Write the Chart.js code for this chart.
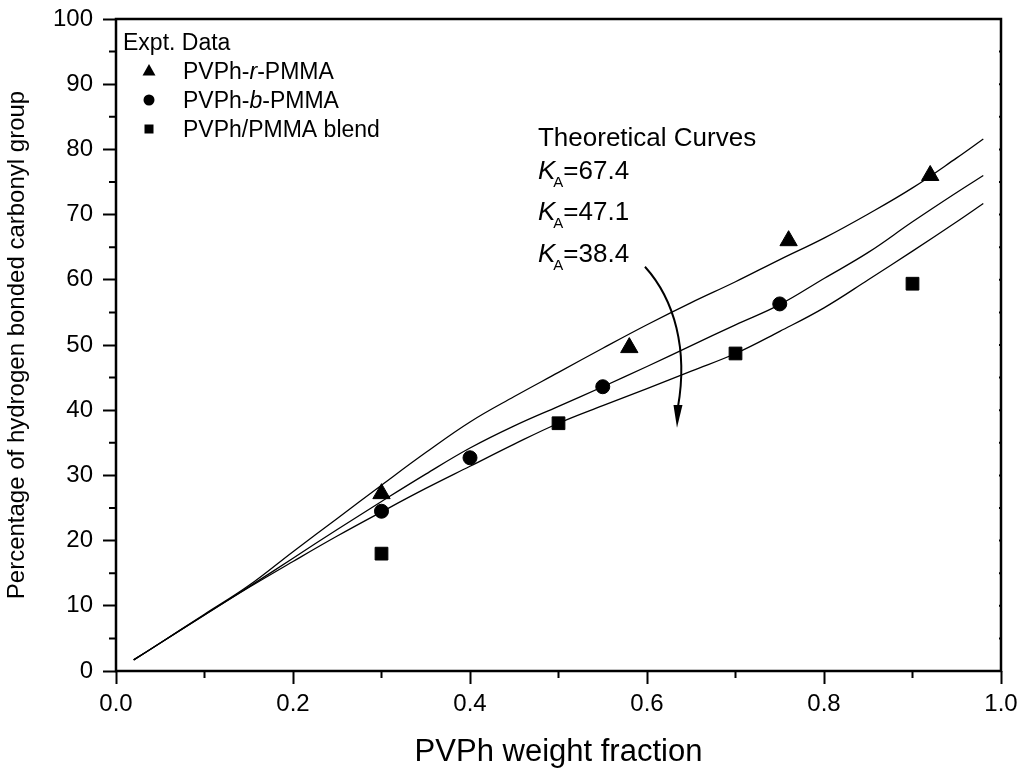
<!DOCTYPE html>
<html>
<head>
<meta charset="utf-8">
<script src="https://cdn.jsdelivr.net/npm/chart.js@4.4.0/dist/chart.umd.min.js"></script>
<style>
  html, body { margin: 0; padding: 0; background: #fff; }
  #wrap { width: 1026px; height: 775px; }
</style>
</head>
<body>
<div id="wrap"><canvas id="chart" width="1026" height="775"></canvas></div>
<script>
// Expt. data
const triX = [0.30, 0.58, 0.76, 0.92];
const triY = [27.2, 49.6, 66.0, 76.0];
const circX = [0.30, 0.40, 0.55, 0.75];
const circY = [24.5, 32.7, 43.6, 56.3];
const sqX = [0.30, 0.50, 0.70, 0.90];
const sqY = [18.0, 38.0, 48.7, 59.4];

// theoretical curves
const curveX = [0.02, 0.05, 0.10, 0.15, 0.20, 0.25, 0.30, 0.35, 0.40, 0.45, 0.50, 0.55, 0.60, 0.65, 0.70, 0.75, 0.80, 0.85, 0.90, 0.95, 0.98];
const ka674 = [1.7, 4.3, 8.7, 13.1, 18.3, 23.4, 28.5, 33.5, 38.2, 42.1, 45.8, 49.5, 53.1, 56.5, 59.7, 63.1, 66.4, 70.1, 74.1, 78.7, 81.6];
const ka471 = [1.7, 4.3, 8.6, 12.9, 17.3, 21.7, 26.0, 30.2, 34.2, 37.6, 40.6, 43.6, 46.7, 49.9, 53.1, 56.2, 60.2, 64.2, 68.9, 73.4, 76.0];
const ka384 = [1.7, 4.3, 8.6, 12.8, 16.8, 20.7, 24.4, 28.0, 31.4, 34.8, 38.0, 40.7, 43.3, 46.0, 48.7, 52.1, 55.7, 60.0, 64.4, 68.9, 71.7];

const kaLabels = ['=67.4', '=47.1', '=38.4'];
const legendRows = [
  { pre: 'PVPh-', it: 'r', post: '-PMMA', style: 'triangle' },
  { pre: 'PVPh-', it: 'b', post: '-PMMA', style: 'circle' },
  { pre: 'PVPh/PMMA blend', it: '', post: '', style: 'rect' }
];

const FONT = '"Liberation Sans", Arial, sans-serif';
const pts = (xs, ys) => xs.map((x, i) => ({ x: x, y: ys[i] }));

function curve(ys) {
  return {
    data: pts(curveX, ys), showLine: true, borderColor: '#000', borderWidth: 1.3,
    pointRadius: 0, tension: 0.4, fill: false
  };
}
function marks(xs, ys, style, r) {
  return {
    data: pts(xs, ys), showLine: false, pointStyle: style, pointRadius: r,
    backgroundColor: '#000', borderColor: '#000', borderWidth: 1
  };
}

// little marker for the legend box
function marker(ctx, style, x, y) {
  ctx.beginPath();
  if (style === 'triangle') {
    ctx.moveTo(x, y - 7); ctx.lineTo(x + 6.5, y + 4.5); ctx.lineTo(x - 6.5, y + 4.5);
  } else if (style === 'circle') {
    ctx.arc(x, y, 5.5, 0, Math.PI * 2);
  } else {
    ctx.rect(x - 4.5, y - 4.5, 9, 9);
  }
  ctx.closePath();
  ctx.fill();
}

const extras = {
  id: 'extras',
  afterDraw(chart) {
    const ctx = chart.ctx;
    const a = chart.chartArea;
    const xs = chart.scales.x, ys = chart.scales.y;
    ctx.save();
    ctx.fillStyle = '#000';
    ctx.strokeStyle = '#000';

    // frame
    ctx.lineWidth = 2.5;
    ctx.strokeRect(a.left, a.top, a.right - a.left, a.bottom - a.top);

    // minor ticks
    ctx.lineWidth = 2;
    ctx.beginPath();
    for (let v = 0.1; v < 1; v += 0.2) {
      const px = xs.getPixelForValue(v);
      ctx.moveTo(px, a.bottom); ctx.lineTo(px, a.bottom + 7);
    }
    for (let v = 5; v < 100; v += 10) {
      const py = ys.getPixelForValue(v);
      ctx.moveTo(a.left, py); ctx.lineTo(a.left - 7, py);
    }
    for (let v = 5; v < 100; v += 5) {
      const py = ys.getPixelForValue(v);
      ctx.moveTo(a.right, py); ctx.lineTo(a.right - 2, py);
    }
    ctx.stroke();

    // legend box
    ctx.textBaseline = 'alphabetic';
    ctx.font = '23px ' + FONT;
    ctx.fillText('Expt. Data', a.left + 7, a.top + 31);
    legendRows.forEach((row, i) => {
      const base = a.top + 60 + i * 29;
      marker(ctx, row.style, a.left + 33, base - 8);
      let x = a.left + 67;
      ctx.font = '23px ' + FONT;
      ctx.fillText(row.pre, x, base); x += ctx.measureText(row.pre).width;
      if (row.it) {
        ctx.font = 'italic 23px ' + FONT;
        ctx.fillText(row.it, x, base); x += ctx.measureText(row.it).width;
        ctx.font = '23px ' + FONT;
        ctx.fillText(row.post, x, base);
      }
    });

    // Theoretical curves label
    const tx = xs.getPixelForValue(0.4768);
    ctx.font = '26px ' + FONT;
    ctx.fillText('Theoretical Curves', tx, ys.getPixelForValue(80.5));
    const kBase = [75.5, 69.2, 62.8];
    kaLabels.forEach((lab, i) => {
      const b = ys.getPixelForValue(kBase[i]);
      let x = tx;
      ctx.font = 'italic 26px ' + FONT;
      ctx.fillText('K', x, b); x += ctx.measureText('K').width - 2;
      ctx.font = '15px ' + FONT;
      ctx.fillText('A', x, b + 8); x += ctx.measureText('A').width;
      ctx.font = '26px ' + FONT;
      ctx.fillText(lab, x, b);
    });

    // curved arrow
    const P = (x, y) => [xs.getPixelForValue(x), ys.getPixelForValue(y)];
    const s = P(0.5977, 62.0), c1 = P(0.6316, 56.9), c2 = P(0.6463, 49.2), e = P(0.635, 40.5), tip = P(0.6339, 37.3);
    ctx.lineWidth = 2;
    ctx.beginPath();
    ctx.moveTo(s[0], s[1]);
    ctx.bezierCurveTo(c1[0], c1[1], c2[0], c2[1], e[0], e[1]);
    ctx.stroke();
    ctx.beginPath();
    ctx.moveTo(tip[0], tip[1]);
    ctx.lineTo(e[0] - 4.5, e[1] - 2);
    ctx.lineTo(e[0] + 4.5, e[1] - 2);
    ctx.closePath();
    ctx.fill();
    ctx.restore();
  }
};

new Chart(document.getElementById('chart'), {
  type: 'scatter',
  data: {
    datasets: [
      curve(ka674), curve(ka471), curve(ka384),
      marks(triX, triY, 'triangle', 10),
      marks(circX, circY, 'circle', 7),
      marks(sqX, sqY, 'rect', 9)
    ]
  },
  options: {
    responsive: false,
    animation: false,
    devicePixelRatio: 1,
    layout: { padding: { top: 19, right: 25, left: 0, bottom: 0 } },
    plugins: { legend: { display: false }, tooltip: { enabled: false } },
    scales: {
      x: {
        type: 'linear', min: 0, max: 1,
        ticks: { stepSize: 0.2, callback: v => v.toFixed(1), color: '#000', font: { family: FONT, size: 24 }, padding: 6, maxRotation: 0 },
        grid: { drawOnChartArea: false, tickLength: 13, tickWidth: 2, tickColor: '#000' },
        border: { display: false },
        title: { display: true, text: 'PVPh weight fraction', color: '#000', font: { family: FONT, size: 31 }, padding: { top: 0, bottom: 4 } },
        afterFit(scale) { scale.height = 104; }
      },
      y: {
        type: 'linear', min: 0, max: 100,
        ticks: { stepSize: 10, color: '#000', font: { family: FONT, size: 24, lineHeight: 0.6 }, padding: 10 },
        grid: { drawOnChartArea: false, tickLength: 13, tickWidth: 2, tickColor: '#000' },
        border: { display: false },
        title: { display: true, text: 'Percentage of hydrogen bonded carbonyl group', color: '#000', font: { family: FONT, size: 24 }, padding: { top: 3, bottom: 0 } },
        afterFit(scale) { scale.width = 116; }
      }
    }
  },
  plugins: [extras]
});
</script>
</body>
</html>
